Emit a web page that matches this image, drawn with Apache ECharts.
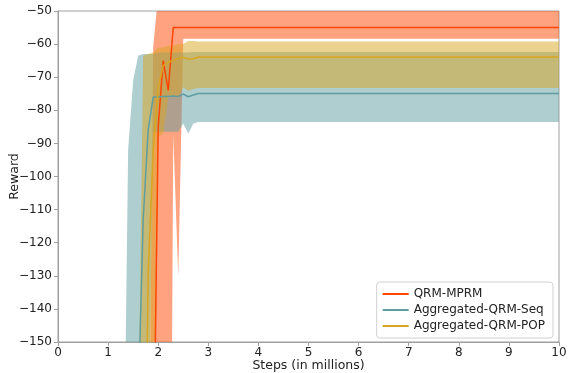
<!DOCTYPE html>
<html>
<head>
<meta charset="utf-8">
<script src="https://cdn.jsdelivr.net/npm/echarts@6/dist/echarts.min.js"></script>
<style>
html,body{margin:0;padding:0;background:#fff;}
#rewardChart{width:577px;height:373px;}
</style>
</head>
<body>
<div id="rewardChart"></div>
<script>
// steps (in millions) shared by every curve; after 3.0 all curves stay flat
var steps = [1.2,1.3,1.4,1.5,1.6,1.7,1.8,1.9,2.0,2.1,2.2,2.3,2.4,2.5,2.6,2.7,2.8,2.9,3.0,10];

// QRM-MPRM
var mprmMean = [-260,-260,-260,-260,-260,-260,-250,-200,-85,-65,-74,-55,-55,-55,-55,-55,-55,-55,-55,-55];
var mprmLow  = [-400,-400,-400,-400,-400,-400,-400,-400,-390,-380,-370,-87,-130,-58.4,-58.4,-58.4,-58.4,-58.4,-58.4,-58.4];
var mprmHigh = [-320,-320,-320,-320,-320,-300,-220,-61,-45,-45,-45,-45,-45,-45,-45,-45,-45,-45,-45,-45];

// Aggregated-QRM-Seq
var seqMean = [-260,-260,-260,-260,-170,-113,-86,-76,-76,-75.8,-75.8,-75.7,-75.8,-75.1,-75.9,-75.4,-74.9,-74.9,-74.9,-74.9];
var seqLow  = [-400,-400,-400,-400,-400,-400,-186,-86.5,-86.5,-86.5,-86.5,-86.5,-86.5,-84,-87,-84,-83.5,-83.5,-83.5,-83.5];
var seqHigh = [-400,-214,-92,-71,-63.5,-63,-63,-63,-62.5,-62.5,-62.5,-62.5,-62.5,-62.5,-62.5,-62.4,-62.4,-62.4,-62.4,-62.4];

// Aggregated-QRM-POP
var popMean = [-260,-260,-260,-260,-260,-250,-129,-92,-73,-66.5,-65.5,-65,-64.3,-64,-64.5,-64.4,-63.9,-63.9,-63.9,-63.9];
var popLow  = [-300,-300,-300,-300,-300,-300,-300,-200,-88,-87,-76,-76,-76,-73,-74.2,-73.6,-73.3,-73.3,-73.3,-73.3];
var popHigh = [-300,-300,-300,-300,-180,-63.5,-63,-62.5,-61,-61,-60.5,-60.5,-60,-60,-59.1,-59.1,-59.2,-59.2,-59.2,-59.2];

var xTicks = [0,1,2,3,4,5,6,7,8,9,10];
var yTicks = [-150,-140,-130,-120,-110,-100,-90,-80,-70,-60,-50];

var FONT = 'DejaVu Sans';

// shaded band between low and high, drawn as one polygon
function bandSeries(name, low, high, fill){
  return {
    name: name,
    type: 'custom',
    clip: true,
    silent: true,
    data: steps.map(function(x, i){ return [x, low[i], high[i]]; }),
    encode: { x: 0, y: [1, 2] },
    renderItem: function(params, api){
      if(params.dataIndex !== 0) return null;
      var pts = [];
      for(var i = 0; i < steps.length; i++){
        pts.push(api.coord([steps[i], high[i]]));
      }
      for(var j = steps.length - 1; j >= 0; j--){
        pts.push(api.coord([steps[j], low[j]]));
      }
      return { type: 'polygon', shape: { points: pts }, style: { fill: fill } };
    }
  };
}

function meanSeries(name, values, color){
  return {
    name: name,
    type: 'line',
    data: steps.map(function(x, i){ return [x, values[i]]; }),
    showSymbol: false,
    symbol: 'none',
    z: 3,
    silent: true,
    lineStyle: { width: 1.5, color: color },
    itemStyle: { color: color }
  };
}

var chart = echarts.init(document.getElementById('rewardChart'));
chart.setOption({
  animation: false,
  grid: {
    left: 58, right: 18, top: 11, bottom: 31,
    outerBoundsMode: 'none',
    containLabel: false,
    show: true, borderColor: '#a0a0a0', borderWidth: 1
  },
  legend: {
    data: ['QRM-MPRM', 'Aggregated-QRM-Seq', 'Aggregated-QRM-POP'],
    orient: 'vertical',
    right: 24, bottom: 35,
    icon: 'rect', itemWidth: 26, itemHeight: 2, itemGap: 4,
    backgroundColor: 'rgba(255,255,255,0.8)',
    borderColor: '#d0d0d0', borderWidth: 1, borderRadius: 3,
    padding: [6, 8, 6, 6],
    textStyle: { fontFamily: FONT, fontSize: 12, color: '#222' }
  },
  xAxis: {
    type: 'value', min: 0, max: 10, interval: 1,
    name: 'Steps (in millions)', nameLocation: 'middle', nameGap: 17,
    nameMoveOverlap: false,
    nameTextStyle: { fontFamily: FONT, fontSize: 12.5, color: '#222' },
    axisLine: { show: true, lineStyle: { color: '#a0a0a0' } },
    axisTick: { show: true, length: 4, lineStyle: { color: '#a0a0a0' } },
    axisLabel: { fontFamily: FONT, fontSize: 12, color: '#222', margin: 5,
      formatter: function(v){ return xTicks.indexOf(v) >= 0 ? String(v) : ''; } },
    splitLine: { show: false }
  },
  yAxis: {
    type: 'value', min: -150, max: -50, interval: 10,
    name: 'Reward', nameLocation: 'middle', nameGap: 37,
    nameMoveOverlap: false,
    nameTextStyle: { fontFamily: FONT, fontSize: 12.5, color: '#222' },
    axisLine: { show: true, lineStyle: { color: '#a0a0a0' } },
    axisTick: { show: true, length: 4, lineStyle: { color: '#a0a0a0' } },
    axisLabel: { fontFamily: FONT, fontSize: 12, color: '#222', margin: 6,
      formatter: function(v){ return yTicks.indexOf(v) >= 0 ? String(v).replace('-', '\u2212') : ''; } },
    splitLine: { show: false }
  },
  series: [
    bandSeries('mprm-band', mprmLow, mprmHigh, 'rgba(255,69,0,0.5)'),
    bandSeries('seq-band', seqLow, seqHigh, 'rgba(95,158,160,0.5)'),
    bandSeries('pop-band', popLow, popHigh, 'rgba(218,165,32,0.5)'),
    meanSeries('QRM-MPRM', mprmMean, '#ff4500'),
    meanSeries('Aggregated-QRM-Seq', seqMean, '#5f9ea0'),
    meanSeries('Aggregated-QRM-POP', popMean, '#daa520')
  ]
});
</script>
</body>
</html>
